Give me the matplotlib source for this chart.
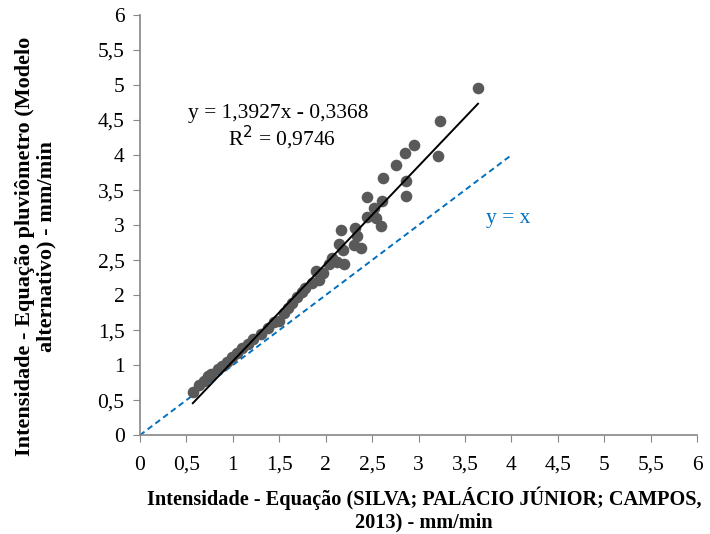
import numpy as np
import matplotlib
matplotlib.use("Agg")
import matplotlib.pyplot as plt
from matplotlib.ticker import FuncFormatter, MultipleLocator

# Data
x_silva = [0.57, 0.64, 0.69, 0.73, 0.77, 0.84, 0.88, 0.94, 0.99, 1.05,
           1.10, 1.16, 1.22, 1.30, 1.38, 1.44, 1.50, 1.55, 1.60, 1.64,
           1.69, 1.74, 1.78, 1.85, 1.93, 1.90, 1.97, 2.04, 2.07, 2.12,
           2.20, 2.14, 2.19, 2.30, 2.38, 2.34, 2.17, 2.32, 2.44, 2.54,
           2.60, 2.52, 2.61, 2.44, 2.62, 2.76, 2.87, 2.86, 2.85, 2.95,
           3.21, 3.23, 3.64]
y_pluvio = [0.62, 0.71, 0.78, 0.84, 0.87, 0.95, 0.99, 1.04, 1.12, 1.18,
            1.24, 1.30, 1.37, 1.45, 1.53, 1.61, 1.63, 1.74, 1.81, 1.89,
            1.97, 2.04, 2.10, 2.17, 2.21, 2.35, 2.31, 2.44, 2.53, 2.47,
            2.44, 2.73, 2.64, 2.71, 2.67, 2.84, 2.93, 2.96, 3.11, 3.10,
            2.99, 3.24, 3.34, 3.40, 3.67, 3.86, 3.41, 3.63, 4.03, 4.14,
            3.99, 4.49, 4.96]

slope = 1.3927
intercept = -0.3368
r2 = 0.9746
identity_x = [0, 4]

plt.rcParams['font.family'] = ['Liberation Serif', 'DejaVu Serif']

fig = plt.figure(figsize=(7.1, 5.34), dpi=100)
ax = fig.add_axes([0.197, 0.185, 0.785, 0.787])

ax.scatter(x_silva, y_pluvio, s=70, color='#595959', zorder=3, linewidths=0)

# linear trendline
xs = np.array([min(x_silva), max(x_silva)])
ax.plot(xs, slope * xs + intercept, color='black', lw=1.4, zorder=4)

# y = x reference
ax.plot(identity_x, identity_x, color='#0070C0', lw=1.4, ls=(0, (3, 2)), zorder=2)

fmt = lambda v: ('%g' % v).replace('.', ',')
ax.text(1.49, 4.59, 'y = ' + fmt(slope) + 'x - ' + fmt(-intercept), fontsize=15.5, ha='center', va='center')
ax.text(1.53, 4.25, 'R$^2$ = ' + fmt(r2), fontsize=15.5, ha='center', va='center')
ax.text(3.97, 3.10, 'y = x', fontsize=15.5, color='#0070C0', ha='center', va='center')

ax.set_xlim(0, 6)
ax.set_ylim(0, 6)
ax.xaxis.set_major_locator(MultipleLocator(0.5))
ax.yaxis.set_major_locator(MultipleLocator(0.5))
ax.xaxis.set_major_formatter(FuncFormatter(lambda v, p: fmt(v)))
ax.yaxis.set_major_formatter(FuncFormatter(lambda v, p: fmt(v)))
ax.tick_params(labelsize=15.5, colors='#868686', labelcolor='black', length=5, direction='out')
ax.tick_params(axis='x', pad=10)
ax.tick_params(axis='y', pad=6)

for s in ['top', 'right']:
    ax.spines[s].set_visible(False)
for s in ['left', 'bottom']:
    ax.spines[s].set_color('#868686')
    ax.spines[s].set_linewidth(1.2)

ax.set_xlabel('Intensidade - Equação (SILVA; PALÁCIO JÚNIOR; CAMPOS,\n2013) - mm/min',
              fontsize=14.6, fontweight='bold', linespacing=1.2)
ax.set_ylabel('Intensidade - Equação pluviômetro (Modelo\nalternativo) - mm/min',
              fontsize=16, fontweight='bold', linespacing=1.1)
ax.yaxis.set_label_coords(-0.15, 0.45)
ax.xaxis.set_label_coords(0.51, -0.122)

fig.savefig('out.png', dpi=100)
